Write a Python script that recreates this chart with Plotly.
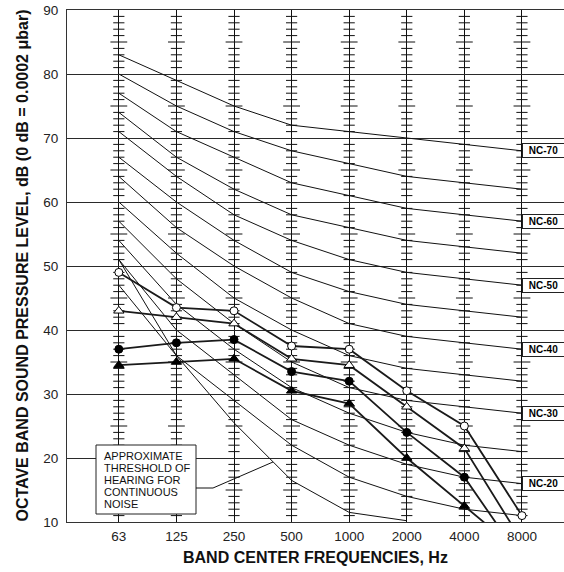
import plotly.graph_objects as go

# ---------------- data ----------------
categories = ["63", "125", "250", "500", "1000", "2000", "4000", "8000"]
y_ticks = [10, 20, 30, 40, 50, 60, 70, 80, 90]

nc15 = [47, 36, 29, 22, 17, 14, 12, 11]
nc20 = [51, 40, 33, 26, 22, 19, 17, 16]
nc25 = [54, 44, 37, 31, 27, 24, 22, 21]
nc30 = [57, 48, 41, 35, 31, 29, 28, 27]
nc35 = [60, 52, 45, 40, 36, 34, 33, 32]
nc40 = [64, 56, 50, 45, 41, 39, 38, 37]
nc45 = [67, 60, 54, 49, 46, 44, 43, 42]
nc50 = [71, 64, 58, 54, 51, 49, 48, 47]
nc55 = [74, 67, 62, 58, 56, 54, 53, 52]
nc60 = [77, 71, 67, 63, 61, 59, 58, 57]
nc65 = [80, 75, 71, 68, 66, 64, 63, 62]
nc70 = [83, 79, 75, 72, 71, 70, 69, 68]
nc_curves = [nc15, nc20, nc25, nc30, nc35, nc40, nc45, nc50, nc55, nc60, nc65, nc70]
nc_labels = {"NC-20": nc20, "NC-30": nc30, "NC-40": nc40,
             "NC-50": nc50, "NC-60": nc60, "NC-70": nc70}

threshold = [51, 36, 25.5, 16.5, 11.5, 10.2, None, None]

white_circle = [49, 43.5, 43, 37.5, 37, 30.5, 25, 11]
white_triangle = [43, 42, 41, 35.5, 34.5, 28, 21.5, 7]
black_circle = [37, 38, 38.5, 33.5, 32, 24, 17, 4]
black_triangle = [34.5, 35, 35.5, 30.5, 28.5, 20, 12.5, 5]

threshold_text = ["APPROXIMATE", "THRESHOLD OF", "HEARING FOR", "CONTINUOUS", "NOISE"]

# ---------------- figure ----------------
FONT = "Liberation Sans, Arial, Helvetica, sans-serif"
W, H = 564, 572
PL, PT, PR, PB = 67, 10, 564, 522   # plot area in page pixels
ML, MT, MR, MB = PL, PT, W - PR, H - PB
PW, PH = PR - PL, PB - PT

xi = list(range(len(categories)))
fig = go.Figure()

# tick marks on every frequency line (1 dB small, 5 dB larger)
sx, sy, bx, by = [], [], [], []
for i in xi:
    for v in range(11, 90):
        if v % 10 == 0:
            continue
        if v % 5 == 0:
            bx.append(i); by.append(v)
        else:
            sx.append(i); sy.append(v)
fig.add_trace(go.Scatter(x=sx, y=sy, mode="markers", hoverinfo="skip",
                         marker=dict(symbol="line-ew", size=8,
                                     line=dict(color="#111", width=1))))
fig.add_trace(go.Scatter(x=bx, y=by, mode="markers", hoverinfo="skip",
                         marker=dict(symbol="line-ew", size=12,
                                     line=dict(color="#111", width=1))))

# NC curves
for c in nc_curves:
    fig.add_trace(go.Scatter(x=xi, y=c, mode="lines", hoverinfo="skip",
                             line=dict(color="#111", width=1)))

# threshold of hearing
fig.add_trace(go.Scatter(x=xi, y=threshold, mode="lines", hoverinfo="skip",
                         line=dict(color="#111", width=1)))

# measured spectra
series = [
    (white_circle, "circle", "white", 8),
    (white_triangle, "triangle-up", "white", 9),
    (black_circle, "circle", "black", 8),
    (black_triangle, "triangle-up", "black", 9),
]
for vals, sym, fill, sz in series:
    fig.add_trace(go.Scatter(x=xi, y=vals, mode="lines+markers", hoverinfo="skip",
                             line=dict(color="#1a1a1a", width=1.8),
                             marker=dict(symbol=sym, size=sz, color=fill,
                                         line=dict(color="black", width=1))))

# NC labels
annotations = []
for name, c in nc_labels.items():
    annotations.append(dict(x=xi[-1], y=c[-1], xref="x", yref="y",
                            xanchor="left", yanchor="middle", xshift=0,
                            text="<b>" + name + "</b>", showarrow=False,
                            font=dict(family=FONT, size=10, color="black"),
                            bgcolor="white", bordercolor="#222", borderwidth=1,
                            borderpad=1, width=39, height=11, align="center"))

def px_x(p):
    return (p - PL) / PW

def px_y(p):
    return (PB - p) / PH

# threshold annotation box
shapes = [
    dict(type="rect", xref="paper", yref="paper",
         x0=px_x(96), x1=px_x(196), y0=px_y(514), y1=px_y(445),
         line=dict(color="#222", width=1), fillcolor="white", layer="above"),
    dict(type="path", xref="paper", yref="paper",
         path="M %f,%f L %f,%f L %f,%f" % (px_x(196), px_y(488), px_x(213), px_y(488),
                                           px_x(273), px_y(462)),
         line=dict(color="#111", width=1), layer="above"),
]
for k, t in enumerate(threshold_text):
    annotations.append(dict(x=px_x(102), y=px_y(456 + 12 * k), xref="paper", yref="paper",
                            xanchor="left", yanchor="middle", text=t, showarrow=False,
                            font=dict(family=FONT, size=11, color="#111")))

# axis titles
annotations.append(dict(x=0, y=0.5, xref="paper", yref="paper", xshift=-(PL - 21.5),
                        xanchor="center", yanchor="middle", textangle=-90,
                        text="<b>OCTAVE BAND SOUND PRESSURE LEVEL, dB (0 dB = 0.0002 \u03bcbar)</b>",
                        showarrow=False, font=dict(family=FONT, size=16, color="#111")))
annotations.append(dict(x=0.5, y=0, xref="paper", yref="paper", yshift=-(557 - PB),
                        xanchor="center", yanchor="middle",
                        text="<b>BAND CENTER FREQUENCIES, Hz</b>",
                        showarrow=False, font=dict(family=FONT, size=16, color="#111")))

fig.update_layout(
    width=W, height=H,
    margin=dict(l=ML, r=MR, t=MT, b=MB, pad=0),
    paper_bgcolor="white", plot_bgcolor="white",
    showlegend=False,
    hovermode=False,
    annotations=annotations,
    shapes=shapes,
    font=dict(family=FONT, color="#111"),
)
fig.update_xaxes(range=[-0.9, 7 + 0.73], tickmode="array", tickvals=xi, ticktext=categories,
                 showgrid=True, gridcolor="#111", gridwidth=1, zeroline=False,
                 showline=True, linecolor="#333", linewidth=1, mirror=True,
                 ticks="", ticklabelstandoff=2,
                 tickfont=dict(family=FONT, size=13.5, color="#222"))
fig.update_yaxes(range=[10, 90], tickmode="array", tickvals=y_ticks,
                 showgrid=True, gridcolor="#2a2a2a", gridwidth=1, zeroline=False,
                 showline=True, linecolor="#333", linewidth=1,
                 ticks="", ticklabelstandoff=5,
                 tickfont=dict(family=FONT, size=13.5, color="#222"))

fig.write_html("out.html",
               config={"displayModeBar": False, "staticPlot": True},
               post_script="document.body.style.margin='0px';document.body.style.overflow='hidden';")
